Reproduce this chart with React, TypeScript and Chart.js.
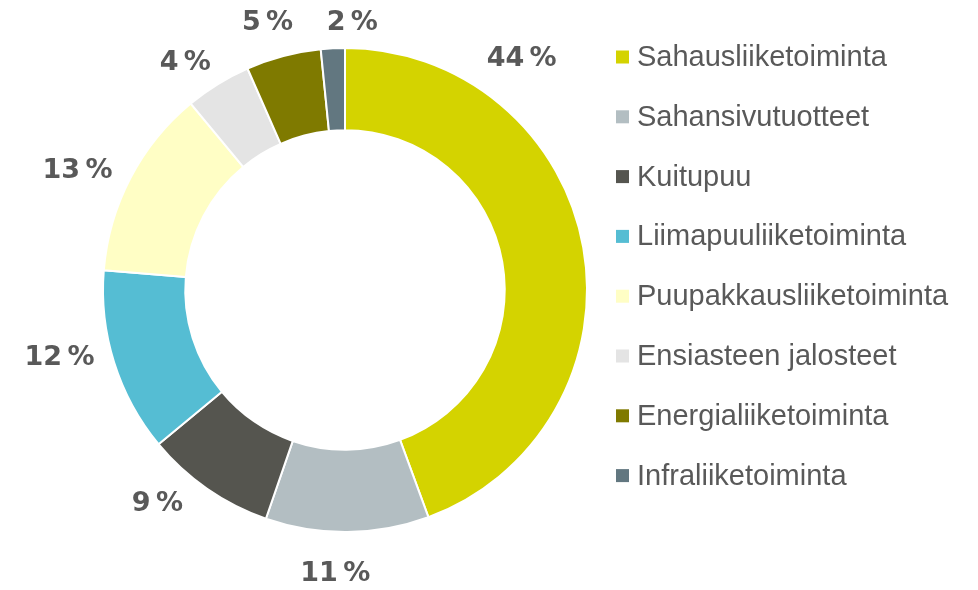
import React, { useEffect, useRef } from "react";
import { Chart, registerables } from "chart.js";

Chart.register(...registerables);

const categories = [
  "Sahausliiketoiminta",
  "Sahansivutuotteet",
  "Kuitupuu",
  "Liimapuuliiketoiminta",
  "Puupakkausliiketoiminta",
  "Ensiasteen jalosteet",
  "Energialiiketoiminta",
  "Infraliiketoiminta",
];
// shares in percent (labels are shown rounded)
const shares = [44.4, 10.9, 8.7, 12.3, 12.7, 4.4, 5.0, 1.6];
const colors = [
  "#D4D300",
  "#B3BEC2",
  "#55554F",
  "#55BDD3",
  "#FFFEC5",
  "#E4E4E4",
  "#7F7A00",
  "#627780",
];

// label placement relative to doughnut centre, in units of the outer radius
const labelPlacement = [
  [0.73, -0.955],
  [-0.04, 1.175],
  [-0.775, 0.885],
  [-1.18, 0.28],
  [-1.105, -0.49],
  [-0.66, -0.94],
  [-0.32, -1.105],
  [0.03, -1.105],
];

const TEXT_COLOR = "#595959";

const labelPlugin = {
  id: "pctLabels",
  afterDatasetsDraw(chart: any) {
    const meta = chart.getDatasetMeta(0);
    const arc = meta.data[0];
    if (!arc) return;
    const cx = arc.x;
    const cy = arc.y;
    const R = arc.outerRadius;
    const ctx = chart.ctx;
    ctx.save();
    ctx.font = "bold 27px 'DejaVu Sans'";
    ctx.fillStyle = TEXT_COLOR;
    ctx.textAlign = "center";
    ctx.textBaseline = "middle";
    const vals = chart.data.datasets[0].data;
    vals.forEach((v: number, i: number) => {
      const p = labelPlacement[i];
      ctx.fillText(`${Math.round(v)}\u2009%`, cx + p[0] * R, cy + p[1] * R);
    });
    ctx.restore();
  },
};

const legendLayout = { x: 616, y0: 57, step: 59.8, box: 13, textGap: 8 };

const legendPlugin = {
  id: "sideLegend",
  afterDraw(chart: any) {
    const ctx = chart.ctx;
    const labels = chart.data.labels;
    const bg = chart.data.datasets[0].backgroundColor;
    ctx.save();
    ctx.font = "29px 'Liberation Sans', Arial, sans-serif";
    ctx.textAlign = "left";
    ctx.textBaseline = "middle";
    labels.forEach((lab: string, i: number) => {
      const y = legendLayout.y0 + i * legendLayout.step;
      ctx.fillStyle = bg[i];
      ctx.fillRect(legendLayout.x, y - legendLayout.box / 2, legendLayout.box, legendLayout.box);
      ctx.fillStyle = TEXT_COLOR;
      ctx.fillText(lab, legendLayout.x + legendLayout.box + legendLayout.textGap, y + 1);
    });
    ctx.restore();
  },
};

export default function App() {
  const ref = useRef<HTMLCanvasElement | null>(null);
  useEffect(() => {
    if (!ref.current) return;
    const chart = new Chart(ref.current, {
      type: "doughnut",
      data: {
        labels: categories,
        datasets: [
          {
            data: shares,
            backgroundColor: colors,
            borderColor: "#ffffff",
            borderWidth: 2,
          },
        ],
      },
      options: {
        responsive: false,
        maintainAspectRatio: false,
        animation: false,
        devicePixelRatio: 1,
        cutout: "66%",
        layout: { padding: { left: 102, right: 390, top: 47, bottom: 57 } },
        plugins: {
          legend: { display: false },
          tooltip: { enabled: false },
          title: { display: false },
        },
      },
      plugins: [labelPlugin, legendPlugin],
    });
    return () => chart.destroy();
  }, []);
  return (
    <div style={{ position: "fixed", left: 0, top: 0, width: 978, height: 590, background: "#fff" }}>
      <canvas ref={ref} width={978} height={590} style={{ display: "block" }} />
    </div>
  );
}
